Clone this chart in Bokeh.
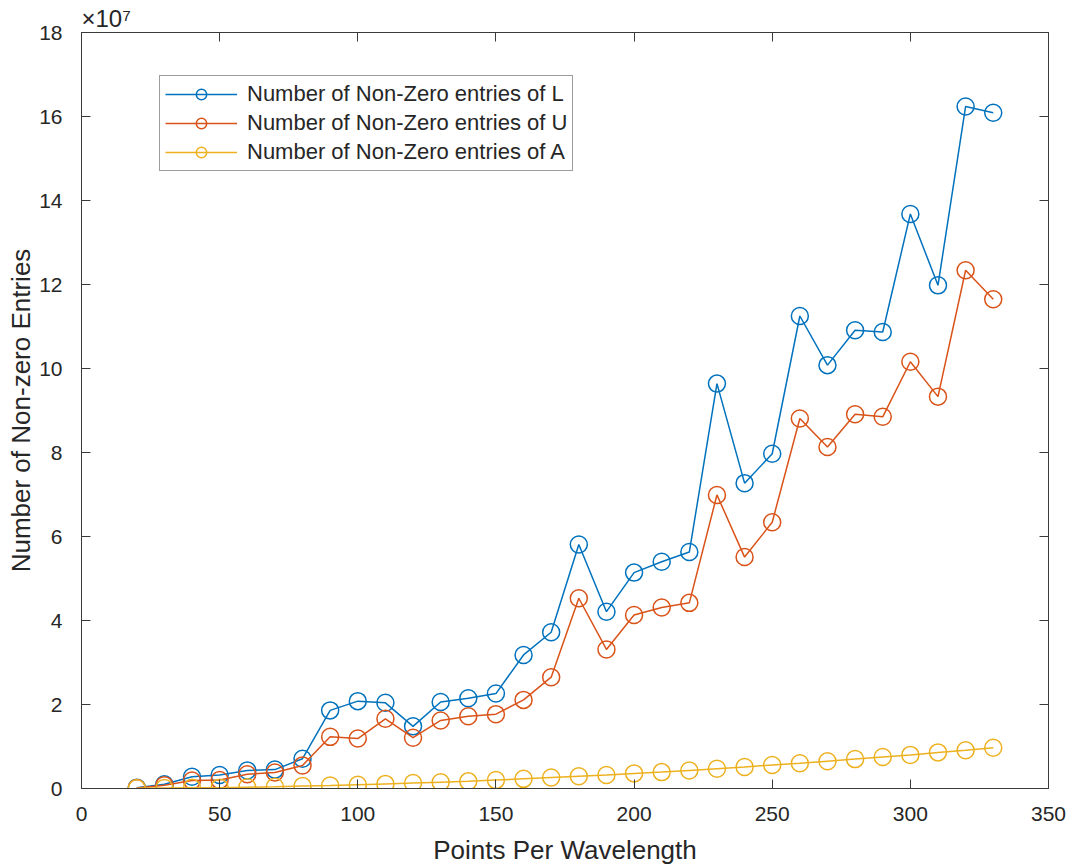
from bokeh.plotting import figure
from bokeh.models import LinearAxis, Legend, FixedTicker, Range1d, Title
from bokeh.embed import file_html
from bokeh.resources import INLINE

# Points per wavelength
ppw = [20, 30, 40, 50, 60, 70, 80, 90, 100, 110, 120, 130, 140, 150, 160, 170,
       180, 190, 200, 210, 220, 230, 240, 250, 260, 270, 280, 290, 300, 310, 320, 330]

# Number of non-zero entries (in units of 1e7)
nnz_L = [0.02, 0.10, 0.28, 0.32, 0.43, 0.45, 0.71, 1.86, 2.08, 2.04, 1.48, 2.06, 2.15, 2.26, 3.18, 3.72,
         5.81, 4.21, 5.14, 5.40, 5.63, 9.64, 7.27, 7.97, 11.25, 10.08, 10.91, 10.87, 13.68, 11.98, 16.24, 16.09]
nnz_U = [0.01, 0.08, 0.19, 0.20, 0.34, 0.38, 0.55, 1.23, 1.19, 1.66, 1.21, 1.62, 1.72, 1.77, 2.11, 2.65,
         4.53, 3.31, 4.13, 4.31, 4.42, 6.99, 5.51, 6.34, 8.81, 8.13, 8.91, 8.85, 10.16, 9.33, 12.34, 11.65]
nnz_A = [0.004, 0.01, 0.015, 0.02, 0.03, 0.04, 0.06, 0.07, 0.09, 0.11, 0.13, 0.15, 0.17, 0.20, 0.23, 0.26,
         0.29, 0.32, 0.36, 0.39, 0.43, 0.47, 0.51, 0.56, 0.60, 0.65, 0.70, 0.75, 0.80, 0.86, 0.91, 0.97]

series_names = ["Number of Non-Zero entries of L",
                "Number of Non-Zero entries of U",
                "Number of Non-Zero entries of A"]
series_colors = ["#0072BD", "#D95319", "#EDB120"]

x_ticks = [0, 50, 100, 150, 200, 250, 300, 350]
y_ticks = [0, 2, 4, 6, 8, 10, 12, 14, 16, 18]

FONT = "Liberation Sans"
TXT = "#262626"
AX = "#3a3a3a"

p = figure(width=1075, height=867, output_backend="svg", toolbar_location=None,
           x_range=Range1d(0, 350), y_range=Range1d(0, 18),
           min_border_left=81, min_border_right=27, min_border_top=32, min_border_bottom=79)
p.background_fill_color = "white"
p.border_fill_color = "white"
p.outline_line_color = AX
p.xgrid.visible = False
p.ygrid.visible = False

items = []
for vals, name, col in zip([nnz_L, nnz_U, nnz_A], series_names, series_colors):
    r1 = p.line(ppw, vals, line_color=col, line_width=1.5)
    r2 = p.scatter(ppw, vals, marker="circle", size=17, fill_color=None,
                   line_color=col, line_width=1.5)
    items.append((name, [r1, r2]))

for ax in [p.xaxis[0], p.yaxis[0]]:
    ax.major_tick_in = 9
    ax.major_tick_out = 0
    ax.minor_tick_line_color = None
    ax.axis_line_color = AX
    ax.major_tick_line_color = AX
    ax.major_label_text_font = FONT
    ax.major_label_text_font_size = "21px"
    ax.major_label_text_color = TXT
    ax.axis_label_text_font = FONT
    ax.axis_label_text_font_size = "26px"
    ax.axis_label_text_font_style = "normal"
    ax.axis_label_text_color = TXT

p.xaxis[0].ticker = FixedTicker(ticks=x_ticks)
p.yaxis[0].ticker = FixedTicker(ticks=y_ticks)
p.xaxis[0].axis_label = "Points Per Wavelength"
p.yaxis[0].axis_label = "Number of Non-zero Entries"
p.xaxis[0].major_label_standoff = 18
p.yaxis[0].major_label_standoff = 19
p.xaxis[0].axis_label_standoff = 11
p.yaxis[0].axis_label_standoff = 0

# box ticks on the right and top (unlabelled: drawn as minor ticks)
for loc, ticks in [("right", y_ticks), ("above", x_ticks)]:
    ax = LinearAxis(ticker=FixedTicker(ticks=[], minor_ticks=ticks))
    ax.major_tick_line_color = None
    ax.minor_tick_in = 9
    ax.minor_tick_out = 0
    ax.minor_tick_line_color = AX
    ax.axis_line_color = AX
    ax.major_label_standoff = 0
    p.add_layout(ax, loc)

# exponent label of the y axis
p.add_layout(Title(text="×10⁷", align="left", offset=0, standoff=1,
                   text_font=FONT, text_font_size="24px", text_font_style="normal",
                   text_color=TXT), "above")

legend = Legend(items=items, location=(78, 617))
legend.label_text_font = FONT
legend.label_text_font_size = "22px"
legend.label_text_color = TXT
legend.border_line_color = AX
legend.border_line_width = 1
legend.background_fill_color = "white"
legend.padding = 5
legend.spacing = 3
legend.glyph_width = 72
legend.glyph_height = 26
legend.label_height = 26
legend.label_standoff = 10
legend.margin = 0
p.add_layout(legend)

open("out.html", "w").write(file_html(p, INLINE))
